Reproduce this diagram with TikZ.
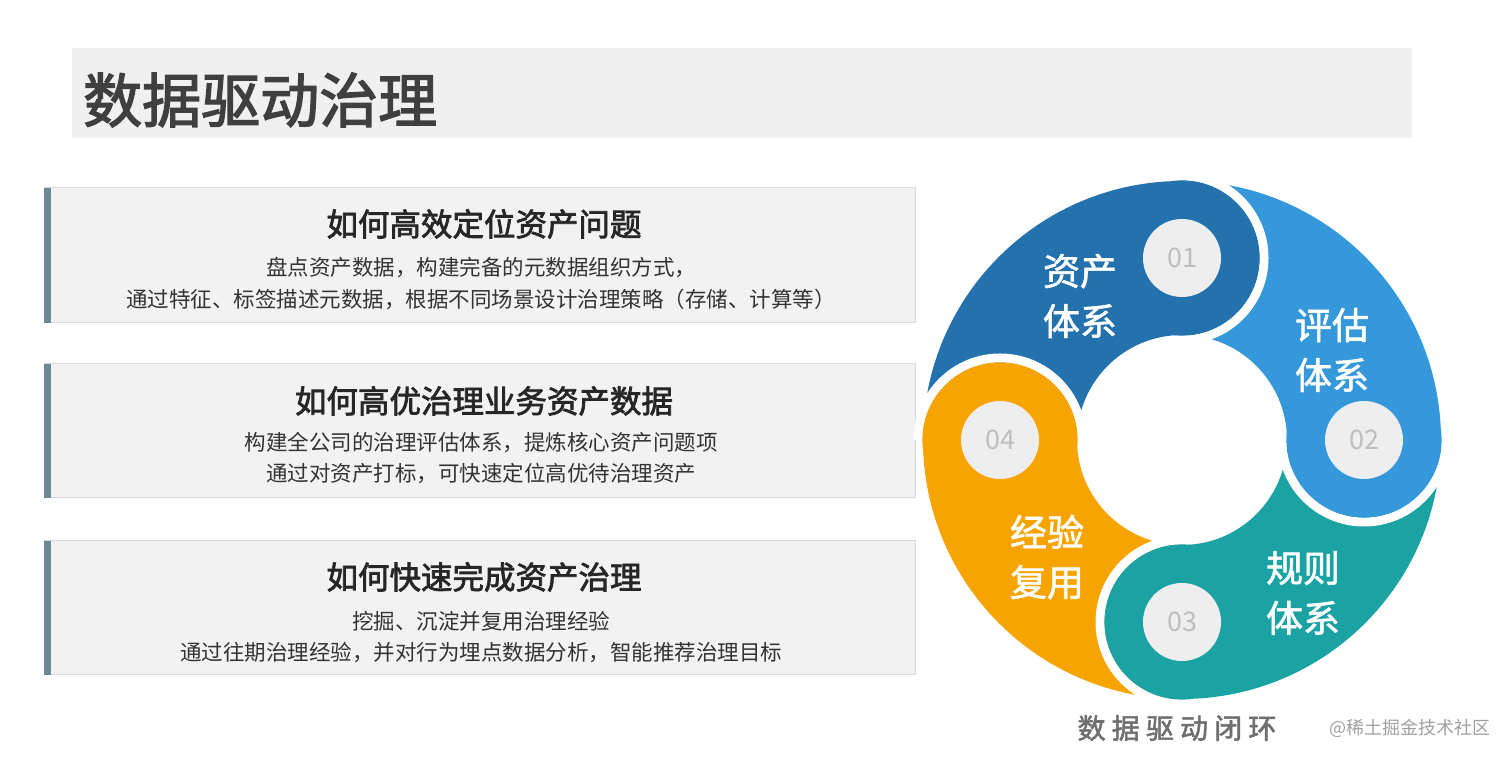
\documentclass[tikz,border=0pt]{standalone}
\usepackage{fontspec}
\setmainfont{Noto Sans CJK SC}
\newfontfamily\medfont[FakeBold=1.6]{Noto Sans CJK SC}
\newfontfamily\headfont[FakeBold=2.4]{Noto Sans CJK SC}
\newfontfamily\capfont[LetterSpace=22,FakeBold=2]{Noto Sans CJK SC}
\usetikzlibrary{calc}
\definecolor{cA}{HTML}{2372AE}
\definecolor{cB}{HTML}{3498DB}
\definecolor{cC}{HTML}{1BA3A3}
\definecolor{cD}{HTML}{F7A300}
\definecolor{bandgray}{HTML}{F0F0F0}
\definecolor{boxfill}{HTML}{F2F2F2}
\definecolor{boxline}{HTML}{D9D9D9}
\definecolor{barc}{HTML}{6C8893}
\definecolor{numfill}{HTML}{EEEEEE}
\definecolor{numtext}{HTML}{BEBEBE}
\definecolor{titletext}{HTML}{3F3F3F}
\definecolor{boxtitle}{HTML}{262626}
\definecolor{boxbody}{HTML}{333333}
\definecolor{captext}{HTML}{6F6F6F}
\definecolor{marktext}{HTML}{A0A0A0}
\tikzset{
  infobox/.style={fill=boxfill,draw=boxline,line width=1pt},
  infobar/.style={fill=barc},
  boxhead/.style={inner sep=0pt,text=boxtitle,font=\fontsize{31.5}{36}\headfont},
  boxline1/.style={inner sep=0pt,text=boxbody,font=\fontsize{21.5}{25}\selectfont},
  numcircle/.style={circle,fill=numfill,minimum size=78pt,inner sep=0pt,text=numtext,font=\fontsize{27}{30}\selectfont},
  ringlabel/.style={inner sep=0pt,text=white,align=center,font=\fontsize{37}{50}\medfont},
  gapline/.style={white,line width=9pt}
}
\begin{document}
\begin{tikzpicture}[x=1pt,y=1pt]
\useasboundingbox (0,0) rectangle (1512,762);
% title band
\fill[bandgray] (72,714) rectangle (1412,624);
\node[anchor=west,inner sep=0pt,text=titletext,font=\fontsize{59}{64}\headfont] (title) at (83,662) {数据驱动治理};
% boxes
\draw[infobox] (44,574) rectangle (915,439);
\fill[infobar] (44,574) rectangle (51,439);
\draw[infobox] (44,398) rectangle (915,264);
\fill[infobar] (44,398) rectangle (51,264);
\draw[infobox] (44,221) rectangle (915,87);
\fill[infobar] (44,221) rectangle (51,87);
\node[boxhead] (h1) at (484,538) {如何高效定位资产问题};
\node[boxline1] (l1a) at (481,494) {盘点资产数据，构建完备的元数据组织方式，};
\node[boxline1] (l1b) at (481,463) {通过特征、标签描述元数据，根据不同场景设计治理策略（存储、计算等）};
\node[boxhead] (h2) at (484,361) {如何高优治理业务资产数据};
\node[boxline1] (l2a) at (481,319) {构建全公司的治理评估体系，提炼核心资产问题项};
\node[boxline1] (l2b) at (481,288) {通过对资产打标，可快速定位高优待治理资产};
\node[boxhead] (h3) at (484,185) {如何快速完成资产治理};
\node[boxline1] (l3a) at (481,141) {挖掘、沉淀并复用治理经验};
\node[boxline1] (l3b) at (481,109) {通过往期治理经验，并对行为埋点数据分析，智能推荐治理目标};
% cycle
\coordinate (C) at (1182,322);
\fill[cA] ($(C)+(180:259)$) arc[start angle=180,end angle=90,radius=259] -- ($(C)+(90:105)$) arc[start angle=90,end angle=180,radius=105] -- cycle;
\fill[cB] ($(C)+(90:259)$) arc[start angle=90,end angle=0,radius=259] -- ($(C)+(0:105)$) arc[start angle=0,end angle=90,radius=105] -- cycle;
\fill[cC] ($(C)+(0:259)$) arc[start angle=0,end angle=-90,radius=259] -- ($(C)+(-90:105)$) arc[start angle=-90,end angle=0,radius=105] -- cycle;
\fill[cD] ($(C)+(-90:259)$) arc[start angle=-90,end angle=-180,radius=259] -- ($(C)+(-180:105)$) arc[start angle=-180,end angle=-90,radius=105] -- cycle;
% caps: white gap band just outside each rounded end, then the rounded end itself
\foreach \ang/\col in {90/cA,0/cB,-90/cC,180/cD}{
  \draw[gapline] ($(C)+(\ang:182)+(\ang:82)$) arc[start angle=\ang,end angle=\ang-180,radius=82];
  \fill[\col] ($(C)+(\ang:182)+(\ang+8:77.6)$) arc[start angle=\ang+8,end angle=\ang-188,radius=77.6] -- cycle;
}
\node[numcircle] (n1) at ($(C)+(90:182)$) {01};
\node[numcircle] (n2) at ($(C)+(0:182)$) {02};
\node[numcircle] (n3) at ($(C)+(-90:182)$) {03};
\node[numcircle] (n4) at ($(C)+(180:182)$) {04};
\node[ringlabel] (t1) at (1080,466) {资产\\体系};
\node[ringlabel] (t2) at (1332,412) {评估\\体系};
\node[ringlabel] (t3) at (1303,169) {规则\\体系};
\node[ringlabel] (t4) at (1047,205) {经验\\复用};
\node[inner sep=0pt,text=captext,font=\fontsize{28}{32}\capfont] (cap) at (1177,34) {数据驱动闭环};
\node[inner sep=0pt,text=marktext,font=\fontsize{18}{22}\selectfont] (mark) at (1410,34) {@稀土掘金技术社区};
\end{tikzpicture}
\end{document}
